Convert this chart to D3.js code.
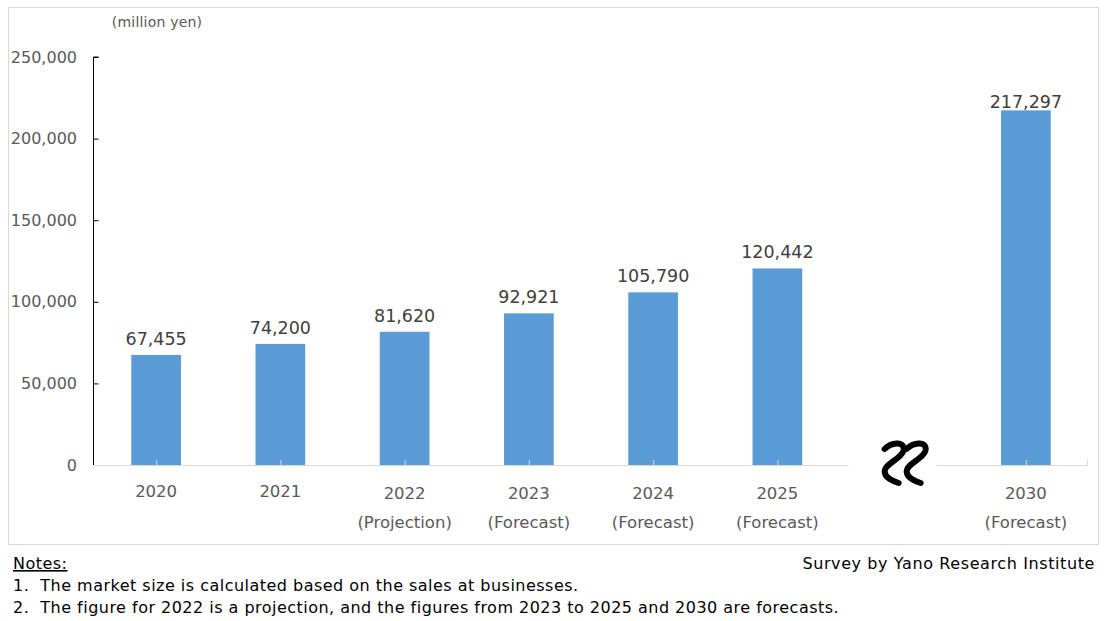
<!DOCTYPE html>
<html><head><meta charset="utf-8">
<script src="https://cdn.jsdelivr.net/npm/d3@7"></script>
<style>body{margin:0;background:#fff}svg text{font-family:"DejaVu Sans",sans-serif}</style>
</head><body>
<svg id="c" width="1112" height="621"></svg>
<script>
const categories = ["2020","2021","2022","2023","2024","2025","gap","2030"];
const catLine2 = ["","","(Projection)","(Forecast)","(Forecast)","(Forecast)","","(Forecast)"];
const values = [67455, 74200, 81620, 92921, 105790, 120442, null, 217297];
const yTicks = [0, 50000, 100000, 150000, 200000, 250000];
const unitLabel = "(million yen)";
const notes = ["Notes:", "1.  The market size is calculated based on the sales at businesses.", "2.  The figure for 2022 is a projection, and the figures from 2023 to 2025 and 2030 are forecasts."];
const source = "Survey by Yano Research Institute";

const svg = d3.select("#c");
const L = 94, R = 1088, T = 57, B = 465;
svg.append("rect").attr("x",8.5).attr("y",7.5).attr("width",1090).attr("height",537)
  .attr("fill","#fff").attr("stroke","#d9d9d9");

const x = d3.scaleBand().domain(categories).range([L,R]).paddingInner(0.6).paddingOuter(0.3);
const y = d3.scaleLinear().domain([0,250000]).range([B,T]);
const fmt = d3.format(",");

// baseline with break
const gapC = x("gap") + x.bandwidth()/2;
svg.append("line").attr("x1",L).attr("x2",gapC-53).attr("y1",B+0.5).attr("y2",B+0.5).attr("stroke","#d9d9d9");
svg.append("line").attr("x1",gapC+35).attr("x2",R).attr("y1",B+0.5).attr("y2",B+0.5).attr("stroke","#d9d9d9");

const data = categories.map((c,i)=>({c, v: values[i], l2: catLine2[i]})).filter(d=>d.v!=null);

svg.selectAll("rect.bar").data(data).enter().append("rect").attr("class","bar")
  .attr("x",d=>x(d.c)).attr("width",x.bandwidth())
  .attr("y",d=>y(d.v)).attr("height",d=>B-y(d.v)).attr("fill","#5B9BD5");

// small ticks at bar centres
svg.selectAll("line.ct").data(data).enter().append("line")
  .attr("x1",d=>x(d.c)+x.bandwidth()/2+0.5).attr("x2",d=>x(d.c)+x.bandwidth()/2+0.5)
  .attr("y1",B).attr("y2",B-5).attr("stroke","#d9d9d9");
svg.append("line").attr("x1",R-0.5).attr("x2",R-0.5).attr("y1",B).attr("y2",B-5).attr("stroke","#d9d9d9");

// y axis
const yAxis = d3.axisRight(y).tickValues(yTicks).tickSize(5).tickFormat("");
const ga = svg.append("g").attr("transform",`translate(${L-0.5},0)`).call(yAxis);
ga.select(".domain").attr("stroke","#000").attr("d",`M5,${T}H0V${B}`);
ga.selectAll(".tick line").attr("stroke","#000");
ga.selectAll(".tick").filter(d=>d===0).select("line").remove();
svg.selectAll("text.yt").data(yTicks).enter().append("text")
  .attr("x",77).attr("y",d=>y(d)).attr("dy","0.35em").attr("text-anchor","end")
  .attr("font-size",16).attr("fill","#595959").text(d=>fmt(d));

svg.append("text").attr("x",157).attr("y",27).attr("text-anchor","middle")
  .attr("font-size",14).attr("letter-spacing",0.2).attr("fill","#595959").text(unitLabel);

// value labels
svg.selectAll("text.val").data(data).enter().append("text")
  .attr("x",d=>x(d.c)+x.bandwidth()/2).attr("y",d=>Math.max(y(d.v)-10, 108))
  .attr("text-anchor","middle").attr("font-size",17.5).attr("fill","#404040").text(d=>fmt(d.v));

// category labels
svg.selectAll("text.cat").data(data).enter().append("text")
  .attr("x",d=>x(d.c)+x.bandwidth()/2).attr("y",d=>d.l2?499:497)
  .attr("text-anchor","middle").attr("font-size",16.5).attr("fill","#595959").text(d=>d.c);
svg.selectAll("text.cat2").data(data.filter(d=>d.l2)).enter().append("text")
  .attr("x",d=>x(d.c)+x.bandwidth()/2).attr("y",528)
  .attr("text-anchor","middle").attr("font-size",16.5).attr("fill","#595959").text(d=>d.l2);

// break symbol
const bx = gapC - 17, by = 442;
[0,22].forEach(off=>{
  svg.append("path")
    .attr("d",`M${bx+off},${by+7} C${bx+off+6},${by+1} ${bx+off+20},${by-2} ${bx+off+19},${by+8} C${bx+off+18},${by+16} ${bx+off},${by+22} ${bx+off},${by+29} C${bx+off},${by+36} ${bx+off+8},${by+39} ${bx+off+14},${by+41}`)
    .attr("fill","none").attr("stroke","#000").attr("stroke-width",6).attr("stroke-linecap","round");
});

// notes
const nt = svg.append("g").attr("font-size",16).attr("fill","#000").attr("letter-spacing",0.48);
nt.append("text").attr("x",13).attr("y",569).attr("text-decoration","underline").text(notes[0]);
nt.append("text").attr("x",13).attr("y",591).attr("xml:space","preserve").text(notes[1]);
nt.append("text").attr("x",13).attr("y",613).attr("xml:space","preserve").text(notes[2]);
svg.append("text").attr("x",1095).attr("y",569).attr("text-anchor","end").attr("font-size",16)
  .attr("letter-spacing",0.6).attr("fill","#000").text(source);
</script>
</body></html>
